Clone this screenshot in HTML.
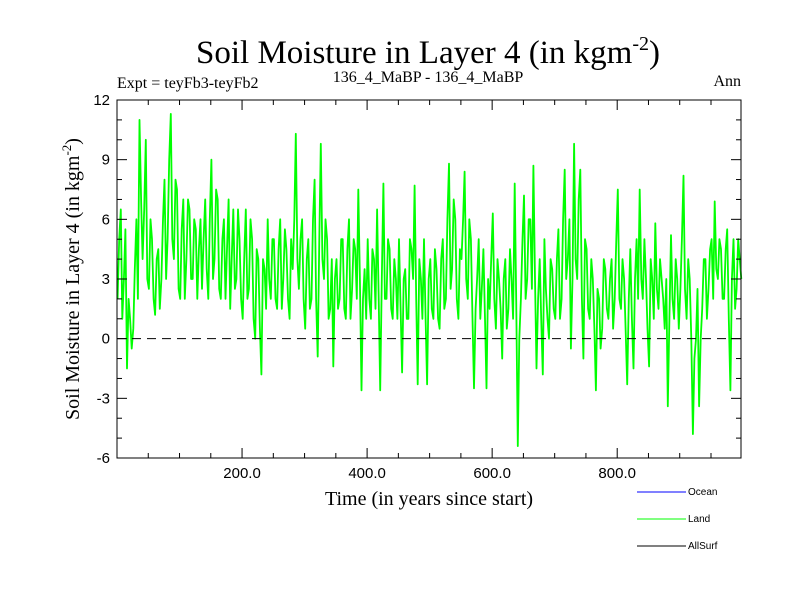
<!DOCTYPE html>
<html><head><meta charset="utf-8"><style>
body{margin:0;background:#fff}
svg text{font-family:"Liberation Serif",serif}
</style></head><body>
<svg id="c" width="800" height="600" xmlns="http://www.w3.org/2000/svg">
<rect width="800" height="600" fill="#fff"/>
<text x="428" y="63" font-size="33" text-anchor="middle">Soil Moisture in Layer 4 (in kgm<tspan dy="-13" font-size="20">-2</tspan><tspan dy="13">)</tspan></text>
<text x="117" y="88" font-size="16">Expt = teyFb3-teyFb2</text>
<text x="428" y="82" font-size="16" text-anchor="middle">136_4_MaBP - 136_4_MaBP</text>
<text x="741" y="86" font-size="16" text-anchor="end">Ann</text>
<text transform="translate(79,279) rotate(-90)" font-size="20" text-anchor="middle">Soil Moisture in Layer 4 (in kgm<tspan dy="-8" font-size="13">-2</tspan><tspan dy="8">)</tspan></text>
<text x="429" y="505" font-size="20" text-anchor="middle">Time (in years since start)</text>
<g id="plot"></g>
<g>
<line x1="637" y1="492" x2="686" y2="492" stroke="#0000ff" stroke-width="1"/>
<text x="688" y="495" font-size="10" style="font-family:'Liberation Sans',sans-serif">Ocean</text>
<line x1="637" y1="519" x2="686" y2="519" stroke="#00ff00" stroke-width="1"/>
<text x="688" y="522" font-size="10" style="font-family:'Liberation Sans',sans-serif">Land</text>
<line x1="637" y1="546" x2="686" y2="546" stroke="#000" stroke-width="1"/>
<text x="688" y="549" font-size="10" style="font-family:'Liberation Sans',sans-serif">AllSurf</text>
</g>
</svg>
<script>
const yearStep = 5;
const landValues = [
2,6.5,3,-1.5,1,0.5,6,11,4,10,
2.5,5,1.2,4.5,3,8,5,11.3,4,7.5,
2,7,4,6.5,3,5.5,4.5,2.5,7,2,
9,4,7,2,6,4.5,1.5,6.5,3,5,
1,6.5,2.5,5,0,4,-1.8,3.5,6,2,
5,1.5,6,3,4.5,1,3.5,10.3,2.5,6,
0.5,5,2,8,-0.9,9.8,3,5,1.5,-1.4,
4,2,5,1,6,2.5,4.5,7.5,-2.6,3.5,
5,1,4,6.5,-2.6,7.8,2,4.5,1,3,
5,-1.7,3.5,1,4.5,7.7,-2.3,3,5,-2.3,
4,1,3.5,0.5,5,2,8.8,3.5,6,1,
4,8.4,2,5,-2.5,3,1,4.5,-2.5,1.5,
6.3,0.5,3,-1,4,1.5,3,7.8,-5.4,2,
7.2,3,6,8.7,-1.5,4,-1.8,2.5,0,3.5,
1,5.5,2,8.5,4,-0.5,9.8,3,8.5,-1,
4.5,1,3,-2.6,2,0.5,3.5,1,4,2,
7.5,1.5,3,-2.3,4.5,-1.5,5,7.5,2,3,
-1.4,3,5.8,1.5,3,0.5,-3.4,5.2,1,3,
2.5,8.2,1,3,-4.8,0,-3.4,1.5,4,2.5,
5,6.9,3,4.5,2,5.5,-2.6,5,2.5,4];
const landValuesMid = [
5,1,5.5,2,-0.5,3.5,2,7,6.5,3,
6,2,4,1.5,6,3,9,5,8,2.5,
5.5,2,7,3,6,2,6,5,3.5,6,
3,7.5,2.5,5,2,7,4,2.5,6.5,2,
4,2,6,1,4.5,0.5,4,1.5,3,5,
2,4.5,1.5,5.5,2,5,6,4,5,2,
4,1.5,6,2,5,4,6,1,4,3,
1.5,5,1.5,4.5,1,5,2,3,2,1,
2,4.5,1.5,2,3,2,5,1.5,4,1,
1.5,3,1,5,3,2,4,1,1,3,
1.5,4.5,1,4,1.5,6,2.5,7,2,4.5,
6,3,6,1,1.5,5,2.5,1,3,4,
2,4,1.5,3,0.5,4.5,1,2,0,5,
2,6,2.5,3,2,1,5,1,4,1.5,
4,1,6,3,6,3,4,7,2,5,
1.5,4,0.5,2.5,-0.5,4,1.5,3,0.5,5,
2,4,0.5,2,1,3,2,3,5,0.5,
4,1,2.5,4,2,3,1,2,4,0.5,
5,2.5,4,0,-1,2.5,0,4,1,4.5,
2,3.5,5,2,4.5,1,3,1.5,5,3];
const xTickLabels = ["200.0","400.0","600.0","800.0"];
const xTickValues = [200,400,600,800];
const yTickValues = [-6,-3,0,3,6,9,12];

const L=117,R=741,T=100,B=458,X0=0,X1=998,Y0=-6,Y1=12;
const sx=v=>L+(v-X0)/(X1-X0)*(R-L);
const sy=v=>B-(v-Y0)/(Y1-Y0)*(B-T);
const NS="http://www.w3.org/2000/svg";
const g=document.getElementById('plot');
function mk(t,a){const e=document.createElementNS(NS,t);for(const k in a)e.setAttribute(k,a[k]);g.appendChild(e);return e;}

let d="";
landValues.forEach((v,i)=>{
  const m=landValuesMid[i];
  d+=(i?"L":"M")+sx(i*yearStep+1).toFixed(1)+","+sy(v).toFixed(1);
  if(m!==undefined) d+="L"+sx(i*yearStep+3.5).toFixed(1)+","+sy(m).toFixed(1);
});
const line=mk('path',{d:d,fill:'none',stroke:'#00ff00','stroke-width':1.8,'stroke-linejoin':'round'});



const zero=mk('line',{x1:L,x2:R,y1:sy(0),y2:sy(0),stroke:'#000','stroke-dasharray':'9,6','stroke-width':1});



const fr=mk('rect',{x:L,y:T,width:R-L,height:B-T,fill:'none',stroke:'#000','stroke-width':1});



for(let v=50;v<X1;v+=50){
  const maj=v%200===0, len=maj?10:5, x=sx(v);
  const t1=mk('line',{x1:x,x2:x,y1:B,y2:B-len,stroke:'#000'});
  
  
  const t2=mk('line',{x1:x,x2:x,y1:T,y2:T+len,stroke:'#000'});
  
  
}
xTickValues.forEach((v,i)=>{
  const t=mk('text',{x:sx(v),y:B+20,'font-size':15,'text-anchor':'middle',style:"font-family:'Liberation Sans',sans-serif"});
  t.textContent=xTickLabels[i];
  
  
});
for(let v=Y0+1;v<Y1;v++){
  const maj=v%3===0,len=maj?10:5,y=sy(v);
  const t1=mk('line',{x1:L,x2:L+len,y1:y,y2:y,stroke:'#000'});
  
  
  const t2=mk('line',{x1:R,x2:R-len,y1:y,y2:y,stroke:'#000'});
  
  
}
yTickValues.forEach(v=>{
  const t=mk('text',{x:L-7,y:sy(v)+5,'font-size':15,'text-anchor':'end',style:"font-family:'Liberation Sans',sans-serif"});
  t.textContent=String(v);
  
  
});
</script>
</body></html>
